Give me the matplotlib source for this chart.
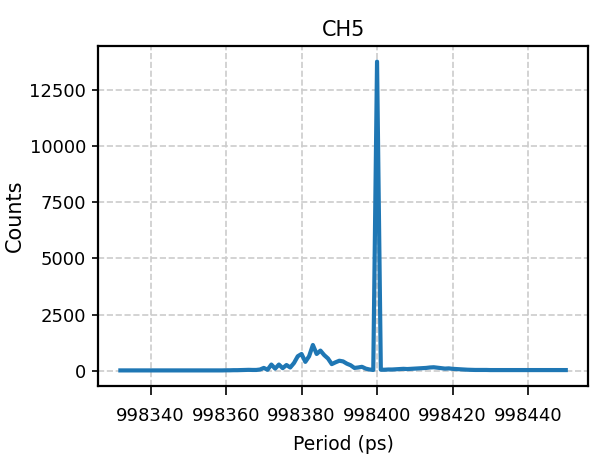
import numpy as np
import matplotlib
matplotlib.use("Agg")
import matplotlib.pyplot as plt

# period bins (ps) and counts
period = np.arange(998332, 998451)
counts = np.array(
    [20] * 28 +                                   # 998332..998359
    [25, 25, 30, 30, 35, 40, 45, 40,              # 998360..998367
     40, 60, 130, 50, 280, 100, 280, 120,         # 998368..998375
     260, 150, 350, 650, 750, 400, 650, 1150,     # 998376..998383
     750, 900, 700, 550, 300, 380, 450, 420,      # 998384..998391
     320, 250, 130, 150, 180, 100, 60, 40,        # 998392..998399
     13750,                                       # 998400
     50, 50, 60, 60, 70, 80, 90, 80, 90, 100,     # 998401..998410
     110, 120, 130, 150, 160, 140, 120, 100, 110, # 998411..998419
     90, 80, 70, 60, 50, 45, 40, 40, 40, 40] +    # 998420..998429
    [35] * 21                                     # 998430..998450
)

plt.rcParams['font.family'] = ['DejaVu Sans']

fig = plt.figure(figsize=(5.91, 4.66), dpi=100)
ax = fig.add_axes([0.166, 0.172, 0.829, 0.729])

ax.plot(period, counts, color="#1f77b4", lw=3)
ax.grid(True, linestyle="--", color="#cccccc", lw=1.2)

ax.set_title("CH5", fontsize=15, pad=7)
ax.set_xlabel("Period (ps)", fontsize=13.5, labelpad=7)
ax.set_ylabel("Counts", fontsize=15, labelpad=3)
ax.set_xticks([998340, 998360, 998380, 998400, 998420, 998440])
ax.set_yticks([0, 2500, 5000, 7500, 10000, 12500])
ax.tick_params(axis='x', labelsize=13, length=6.5, width=1.2, pad=9)
ax.tick_params(axis='y', labelsize=13, length=4.5, width=1.2, pad=4)
for s in ax.spines.values():
    s.set_linewidth(1.6)

fig.savefig("out.png", dpi=100)
